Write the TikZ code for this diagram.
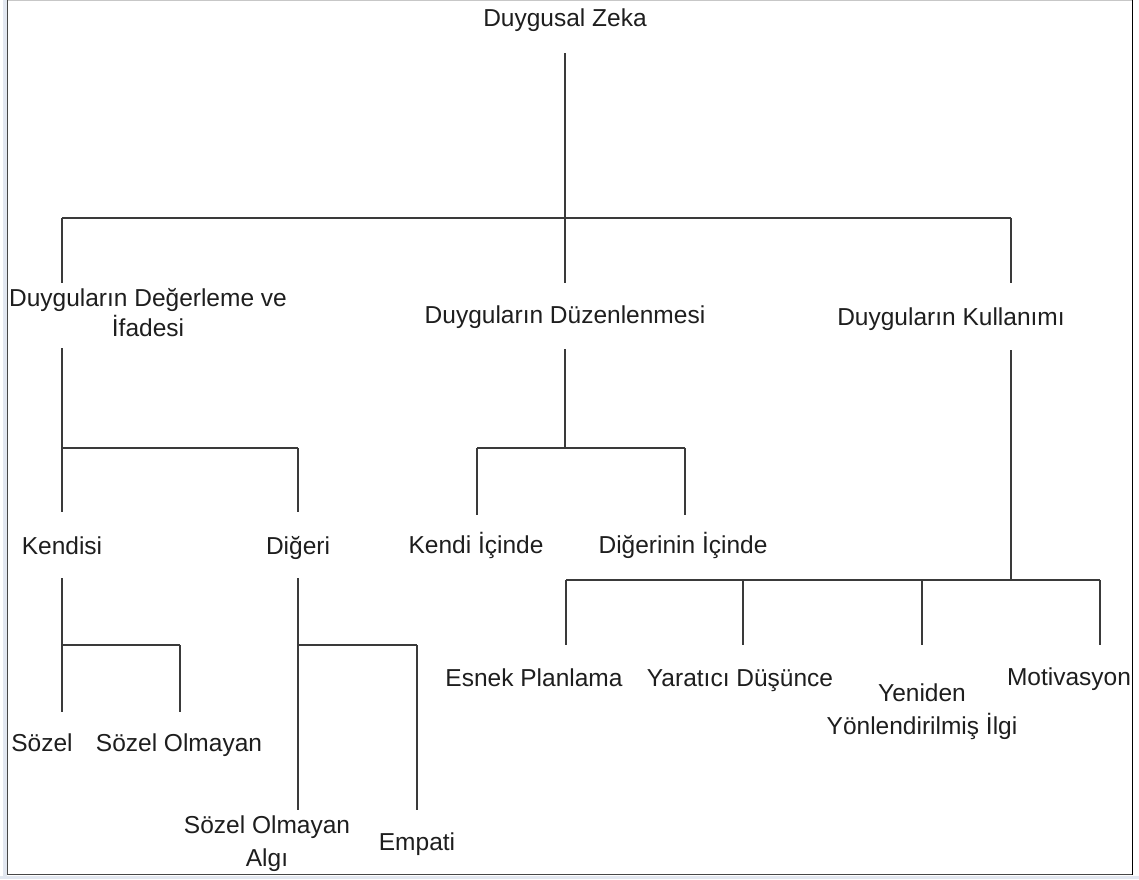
\documentclass[tikz,border=0pt]{standalone}
\usepackage{fontspec}
\setmainfont{Liberation Sans}
\usetikzlibrary{calc}
\definecolor{ink}{HTML}{1E1E1E}
\definecolor{wirecol}{HTML}{3A3A3A}
\definecolor{edgeshade}{HTML}{E2E7F0}
\begin{document}
\begin{tikzpicture}[x=1pt,y=-1pt,
  lbl/.style={inner sep=0pt, outer sep=0pt, text=ink, align=center,
              font=\fontsize{24.5}{30}\selectfont},
  one/.style={lbl, text height=18pt, text depth=5pt},
  two/.style={lbl, font=\fontsize{24.5}{33}\selectfont},
  link/.style={draw=wirecol, line width=1.8pt},
]
\useasboundingbox (0,0) rectangle (1139,879);
\fill[white] (0,0) rectangle (1139,879);

% ---- labels ----
\node[one] (root) at (565,20.2) {Duygusal Zeka};

\node[lbl] (A) at (148,312.8) {Duyguların Değerleme ve\\İfadesi};
\node[one] (B) at (565,316.5) {Duyguların Düzenlenmesi};
\node[one] (C) at (951,318.5) {Duyguların Kullanımı};

\node[one] (kendisi) at (62,547.5) {Kendisi};
\node[one] (digeri)  at (298,547.5) {Diğeri};
\node[one] (kendiic) at (476,546.5) {Kendi İçinde};
\node[one] (digeric) at (683,546.5) {Diğerinin İçinde};

\node[one] (sozel)  at (42,745) {Sözel};
\node[one] (sozelo) at (179,745) {Sözel Olmayan};
\node[two] (algi)   at (267,843.4) {Sözel Olmayan\\Algı};
\node[one] (empati) at (417,843.5) {Empati};

\node[one] (esnek) at (534,680) {Esnek Planlama};
\node[one] (yarat) at (740,680) {Yaratıcı Düşünce};
\node[two] (yonl)  at (922,711.8) {Yeniden\\Yönlendirilmiş İlgi};
\node[one] (motiv) at (1069,678.5) {Motivasyon};

% ---- junction points ----
\coordinate (j0)  at (565,218);
\coordinate (j0l) at (62,218);
\coordinate (j0r) at (1011,218);

\coordinate (jA)  at (62,448);
\coordinate (jAr) at (298,448);
\coordinate (jB)  at (565,448);
\coordinate (jBl) at (477,448);
\coordinate (jBr) at (685,448);
\coordinate (jC)  at (1011,580);
\coordinate (jC1) at (566,580);
\coordinate (jC2) at (743,580);
\coordinate (jC3) at (922,580);
\coordinate (jC4) at (1100,580);

\coordinate (jK)  at (62,645);
\coordinate (jKr) at (180,645);
\coordinate (jD)  at (298,645);
\coordinate (jDr) at (417,645);

% ---- connectors ----
\draw[link] ($(root.south)+(0,21.3)$) -- (j0);
\draw[link] (j0l) -- (j0r);
\draw[link] (j0l) -- ($(j0l |- A.north)+(0,-6)$);
\draw[link] (j0)  -- ($(j0 |- B.north)+(0,-22)$);
\draw[link] (j0r) -- ($(j0r |- C.north)+(0,-24)$);

\draw[link] ($(jA |- A.south)+(0,11.3)$) -- (jA);
\draw[link] (jA) -- (jAr);
\draw[link] (jA)  -- ($(jA |- kendisi.north)+(0,-24)$);
\draw[link] (jAr) -- ($(jAr |- digeri.north)+(0,-24)$);

\draw[link] ($(B.south)+(0,21)$) -- (jB);
\draw[link] (jBl) -- (jBr);
\draw[link] (jBl) -- ($(jBl |- kendiic.north)+(0,-20)$);
\draw[link] (jBr) -- ($(jBr |- digeric.north)+(0,-20)$);

\draw[link] ($(jC |- C.south)+(0,20)$) -- (jC);
\draw[link] (jC1) -- (jC4);
\draw[link] (jC1) -- ($(jC1 |- esnek.north)+(0,-23.5)$);
\draw[link] (jC2) -- ($(jC2 |- yarat.north)+(0,-23.5)$);
\draw[link] (jC3) -- ($(jC3 |- yonl.north)+(0,-38.5)$);
\draw[link] (jC4) -- ($(jC4 |- motiv.north)+(0,-22)$);

\draw[link] ($(jK |- kendisi.south)+(0,19)$) -- (jK);
\draw[link] (jK) -- (jKr);
\draw[link] (jK)  -- ($(jK |- sozel.north)+(0,-21.5)$);
\draw[link] (jKr) -- ($(jKr |- sozelo.north)+(0,-21.5)$);

\draw[link] ($(jD |- digeri.south)+(0,19)$) -- (jD);
\draw[link] (jD) -- (jDr);
\draw[link] (jD)  -- ($(jD |- algi.north)+(0,-5.4)$);
\draw[link] (jDr) -- ($(jDr |- empati.north)+(0,-22)$);

% ---- frame ----
\fill[edgeshade] (3,0) rectangle (6.5,879);
\fill[edgeshade] (0,875.5) rectangle (1139,879);
\draw[draw=black!22, line width=1.2pt] (7,0.7) -- (1133,0.7);
\draw[draw=black!72, line width=1.6pt] (7.5,0) -- (7.5,874.5) -- (1132.5,874.5);
\draw[draw=black, line width=1.8pt] (1132.5,0) -- (1132.5,875.3);
\end{tikzpicture}
\end{document}
